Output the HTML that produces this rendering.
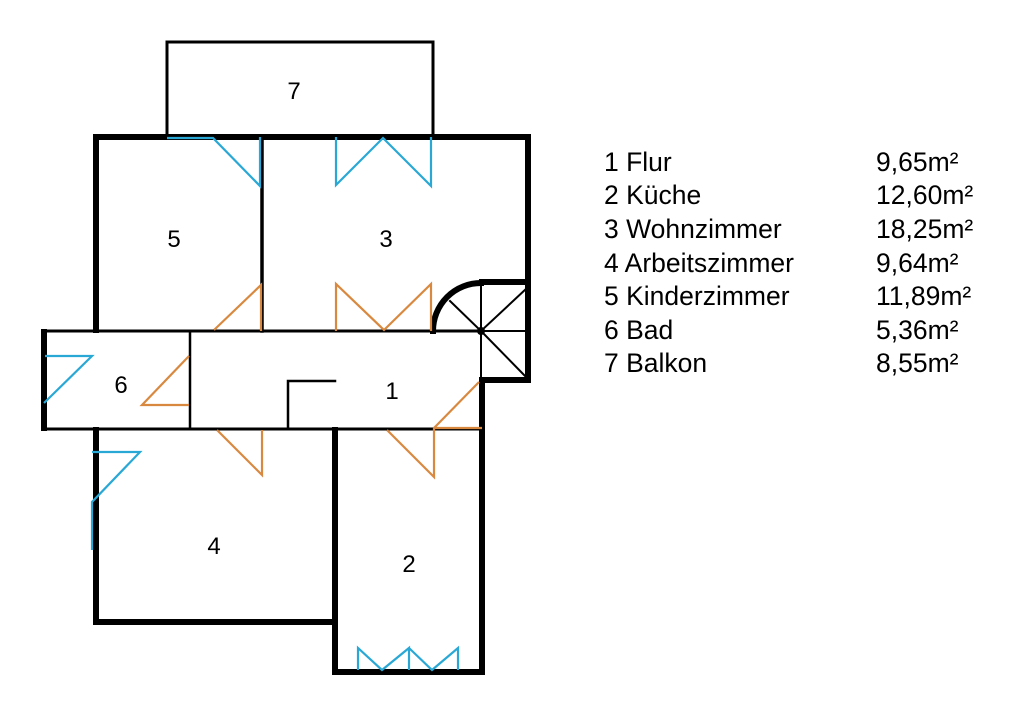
<!DOCTYPE html>
<html><head><meta charset="utf-8"><style>html,body{margin:0;padding:0;background:#fff}svg{display:block}</style></head>
<body>
<svg width="1024" height="712" viewBox="0 0 1024 712" xmlns="http://www.w3.org/2000/svg">
<rect width="1024" height="712" fill="#fff"/>
<g stroke="#000" fill="none" stroke-linecap="square">
<path d="M167 135 V42 H433 V135" stroke-width="3"/>
<path d="M96 330 V137 H528 V380 H482 V672 H335 V430" stroke-width="6"/>
<path d="M44 332 V428" stroke-width="6"/>
<path d="M96 430 V622 H334" stroke-width="6"/>
<path d="M482 282 H527" stroke-width="6"/>
<path d="M433 331 A48 48 0 0 1 481 283" stroke-width="6"/>
<path d="M262 137 V331" stroke-width="3.5"/>
<path d="M44 331 H481" stroke-width="3"/>
<path d="M44 429 H481" stroke-width="3"/>
<path d="M190 331 V429" stroke-width="2.5"/>
<path d="M288 429 V381 H335" stroke-width="2.5"/>
<g stroke-width="2">
<path d="M481 331 L450 301 M481 331 V283 M481 331 L527 288 M481 331 H527 M481 331 L527 378 M481 331 V380"/>
</g>
</g>
<circle cx="481" cy="331" r="4" fill="#000"/>
<g stroke="#d9893f" stroke-width="2.2" fill="none">
<path d="M214 330 L261 285 V331"/>
<path d="M336 331 V284 L384 330 L431 284 V331"/>
<path d="M189 356 L142 405 H189"/>
<path d="M217 430 L262 475 V430"/>
<path d="M387 430 L434 477 V428 H482 M434 428 L479 382"/>
</g>
<g stroke="#29a8d6" stroke-width="2.2" fill="none">
<path d="M167 138 H213 L260 186 V137"/>
<path d="M336 137 V185 L383 138 L431 186 V137"/>
<path d="M45 356 H92 L44 403"/>
<path d="M92 452 H140 L92 502 V550"/>
<path d="M358 670 V648 L382 670 L409 648 V670 M409 648 L432 670 L458 648 V670"/>
</g>
<g font-family="Liberation Sans, sans-serif" font-size="24" fill="#000" text-anchor="middle">
<text x="294" y="99">7</text>
<text x="174" y="247">5</text>
<text x="386" y="247">3</text>
<text x="121" y="393">6</text>
<text x="392" y="399">1</text>
<text x="214" y="554">4</text>
<text x="409" y="572">2</text>
</g>
<g font-family="Liberation Sans, sans-serif" font-size="26.5" fill="#000">
<text x="604" y="171">1 Flur</text><text x="876" y="171">9,65m²</text>
<text x="604" y="204">2 Küche</text><text x="876" y="204">12,60m²</text>
<text x="604" y="238">3 Wohnzimmer</text><text x="876" y="238">18,25m²</text>
<text x="604" y="272">4 Arbeitszimmer</text><text x="876" y="272">9,64m²</text>
<text x="604" y="305">5 Kinderzimmer</text><text x="876" y="305">11,89m²</text>
<text x="604" y="339">6 Bad</text><text x="876" y="339">5,36m²</text>
<text x="604" y="372">7 Balkon</text><text x="876" y="372">8,55m²</text>
</g>
</svg>
</body></html>
